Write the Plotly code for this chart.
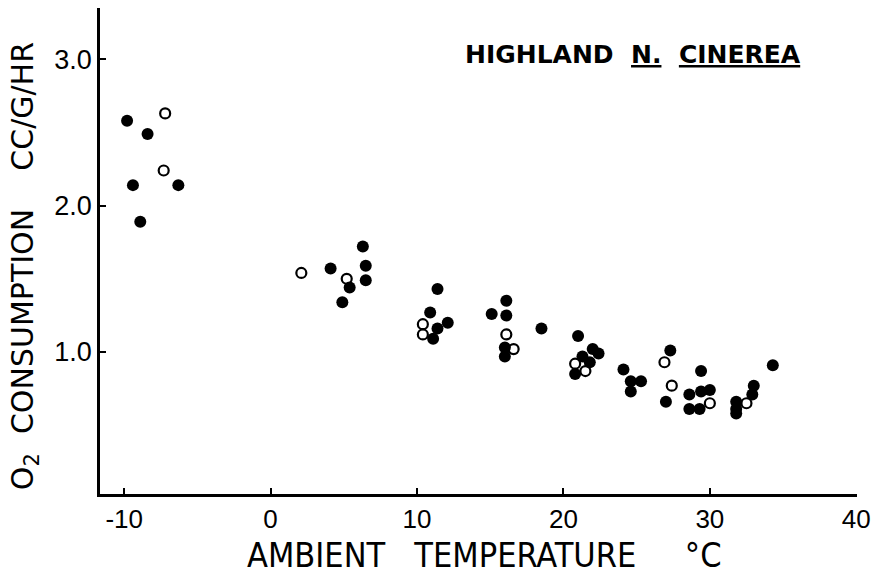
import plotly.graph_objects as go

# Filled circles (temperature °C, O2 consumption cc/g/hr)
filled_x = [-9.8, -9.4, -8.9, -8.4, -6.3,
            4.1, 6.3, 6.5, 6.5, 5.4, 4.9,
            11.4, 10.9, 11.4, 12.1, 11.1,
            16.1, 15.1, 16.1, 16.0, 16.0,
            18.5, 21.0, 22.0, 22.4, 21.3, 21.8, 20.8,
            24.1, 24.6, 25.3, 24.6,
            27.3, 27.0,
            29.4, 28.6, 29.4, 30.0, 28.6, 29.3,
            31.8, 31.8, 31.8, 33.0, 32.9, 34.3]
filled_y = [2.58, 2.14, 1.89, 2.49, 2.14,
            1.57, 1.72, 1.59, 1.49, 1.44, 1.34,
            1.43, 1.27, 1.16, 1.20, 1.09,
            1.35, 1.26, 1.25, 1.03, 0.97,
            1.16, 1.11, 1.02, 0.99, 0.97, 0.93, 0.85,
            0.88, 0.80, 0.80, 0.73,
            1.01, 0.66,
            0.87, 0.71, 0.73, 0.74, 0.61, 0.61,
            0.66, 0.61, 0.58, 0.77, 0.71, 0.91]

# Open circles
open_x = [-7.2, -7.3, 2.1, 5.2, 10.4, 10.4, 16.1, 16.6, 20.8, 21.5,
          26.9, 27.4, 30.0, 32.5]
open_y = [2.63, 2.24, 1.54, 1.50, 1.19, 1.12, 1.12, 1.02, 0.92, 0.87,
          0.93, 0.77, 0.65, 0.65]

x_ticks = [-10, 0, 10, 20, 30, 40]
y_ticks = [1.0, 2.0, 3.0]
y_tick_labels = ["1.0", "2.0", "3.0"]

NARROW = "Liberation Sans Narrow, DejaVu Sans Condensed, Liberation Sans, Arial, sans-serif"
SANS = "Liberation Sans, Arial, sans-serif"
WIDE = "DejaVu Sans, Liberation Sans, sans-serif"

fig = go.Figure()
fig.add_trace(go.Scatter(x=filled_x, y=filled_y, mode="markers",
                         marker=dict(symbol="circle", size=12, color="black"),
                         showlegend=False))
fig.add_trace(go.Scatter(x=open_x, y=open_y, mode="markers",
                         marker=dict(symbol="circle-open", size=10, color="black",
                                     line=dict(width=2.2, color="black")),
                         showlegend=False))

fig.update_layout(
    width=880, height=579,
    margin=dict(l=100, r=23, t=8, b=85),
    paper_bgcolor="white", plot_bgcolor="white",
    xaxis=dict(range=[-11.65, 40.05], tickvals=x_ticks,
               ticktext=[str(v) for v in x_ticks],
               showline=True, linewidth=2.5, linecolor="black",
               ticks="inside", ticklen=6, tickwidth=2, tickcolor="black",
               showgrid=False, zeroline=False,
               tickfont=dict(family=SANS, size=26, color="black")),
    yaxis=dict(range=[0.03, 3.35], tickvals=y_ticks, ticktext=y_tick_labels,
               showline=True, linewidth=2.5, linecolor="black",
               ticks="inside", ticklen=6, tickwidth=2, tickcolor="black",
               showgrid=False, zeroline=False,
               tickfont=dict(family=SANS, size=27, color="black")),
    annotations=[
        dict(text="HIGHLAND\u00a0\u00a0<u>N.</u>\u00a0\u00a0<u>CINEREA</u>",
             x=(463 - 100) / 757, y=0.938, xanchor="left",
             xref="paper", yref="paper", showarrow=False,
             font=dict(family=WIDE, size=25, color="black", weight="bold")),
        dict(text="AMBIENT\u00a0\u00a0\u00a0TEMPERATURE\u00a0\u00a0\u00a0\u00a0\u00a0°C",
             x=(245 - 100) / 757, y=-0.125, xanchor="left",
             xref="paper", yref="paper", showarrow=False, yanchor="middle",
             font=dict(family=NARROW, size=34, color="black")),
        dict(text="O<sub>2</sub>\u00a0\u00a0CONSUMPTION\u00a0\u00a0\u00a0\u00a0CC/G/HR",
             x=-0.128, y=0.468, xref="paper", yref="paper", showarrow=False,
             textangle=-90, font=dict(family=WIDE, size=30, color="black")),
    ],
)

fig.write_html("out.html")
